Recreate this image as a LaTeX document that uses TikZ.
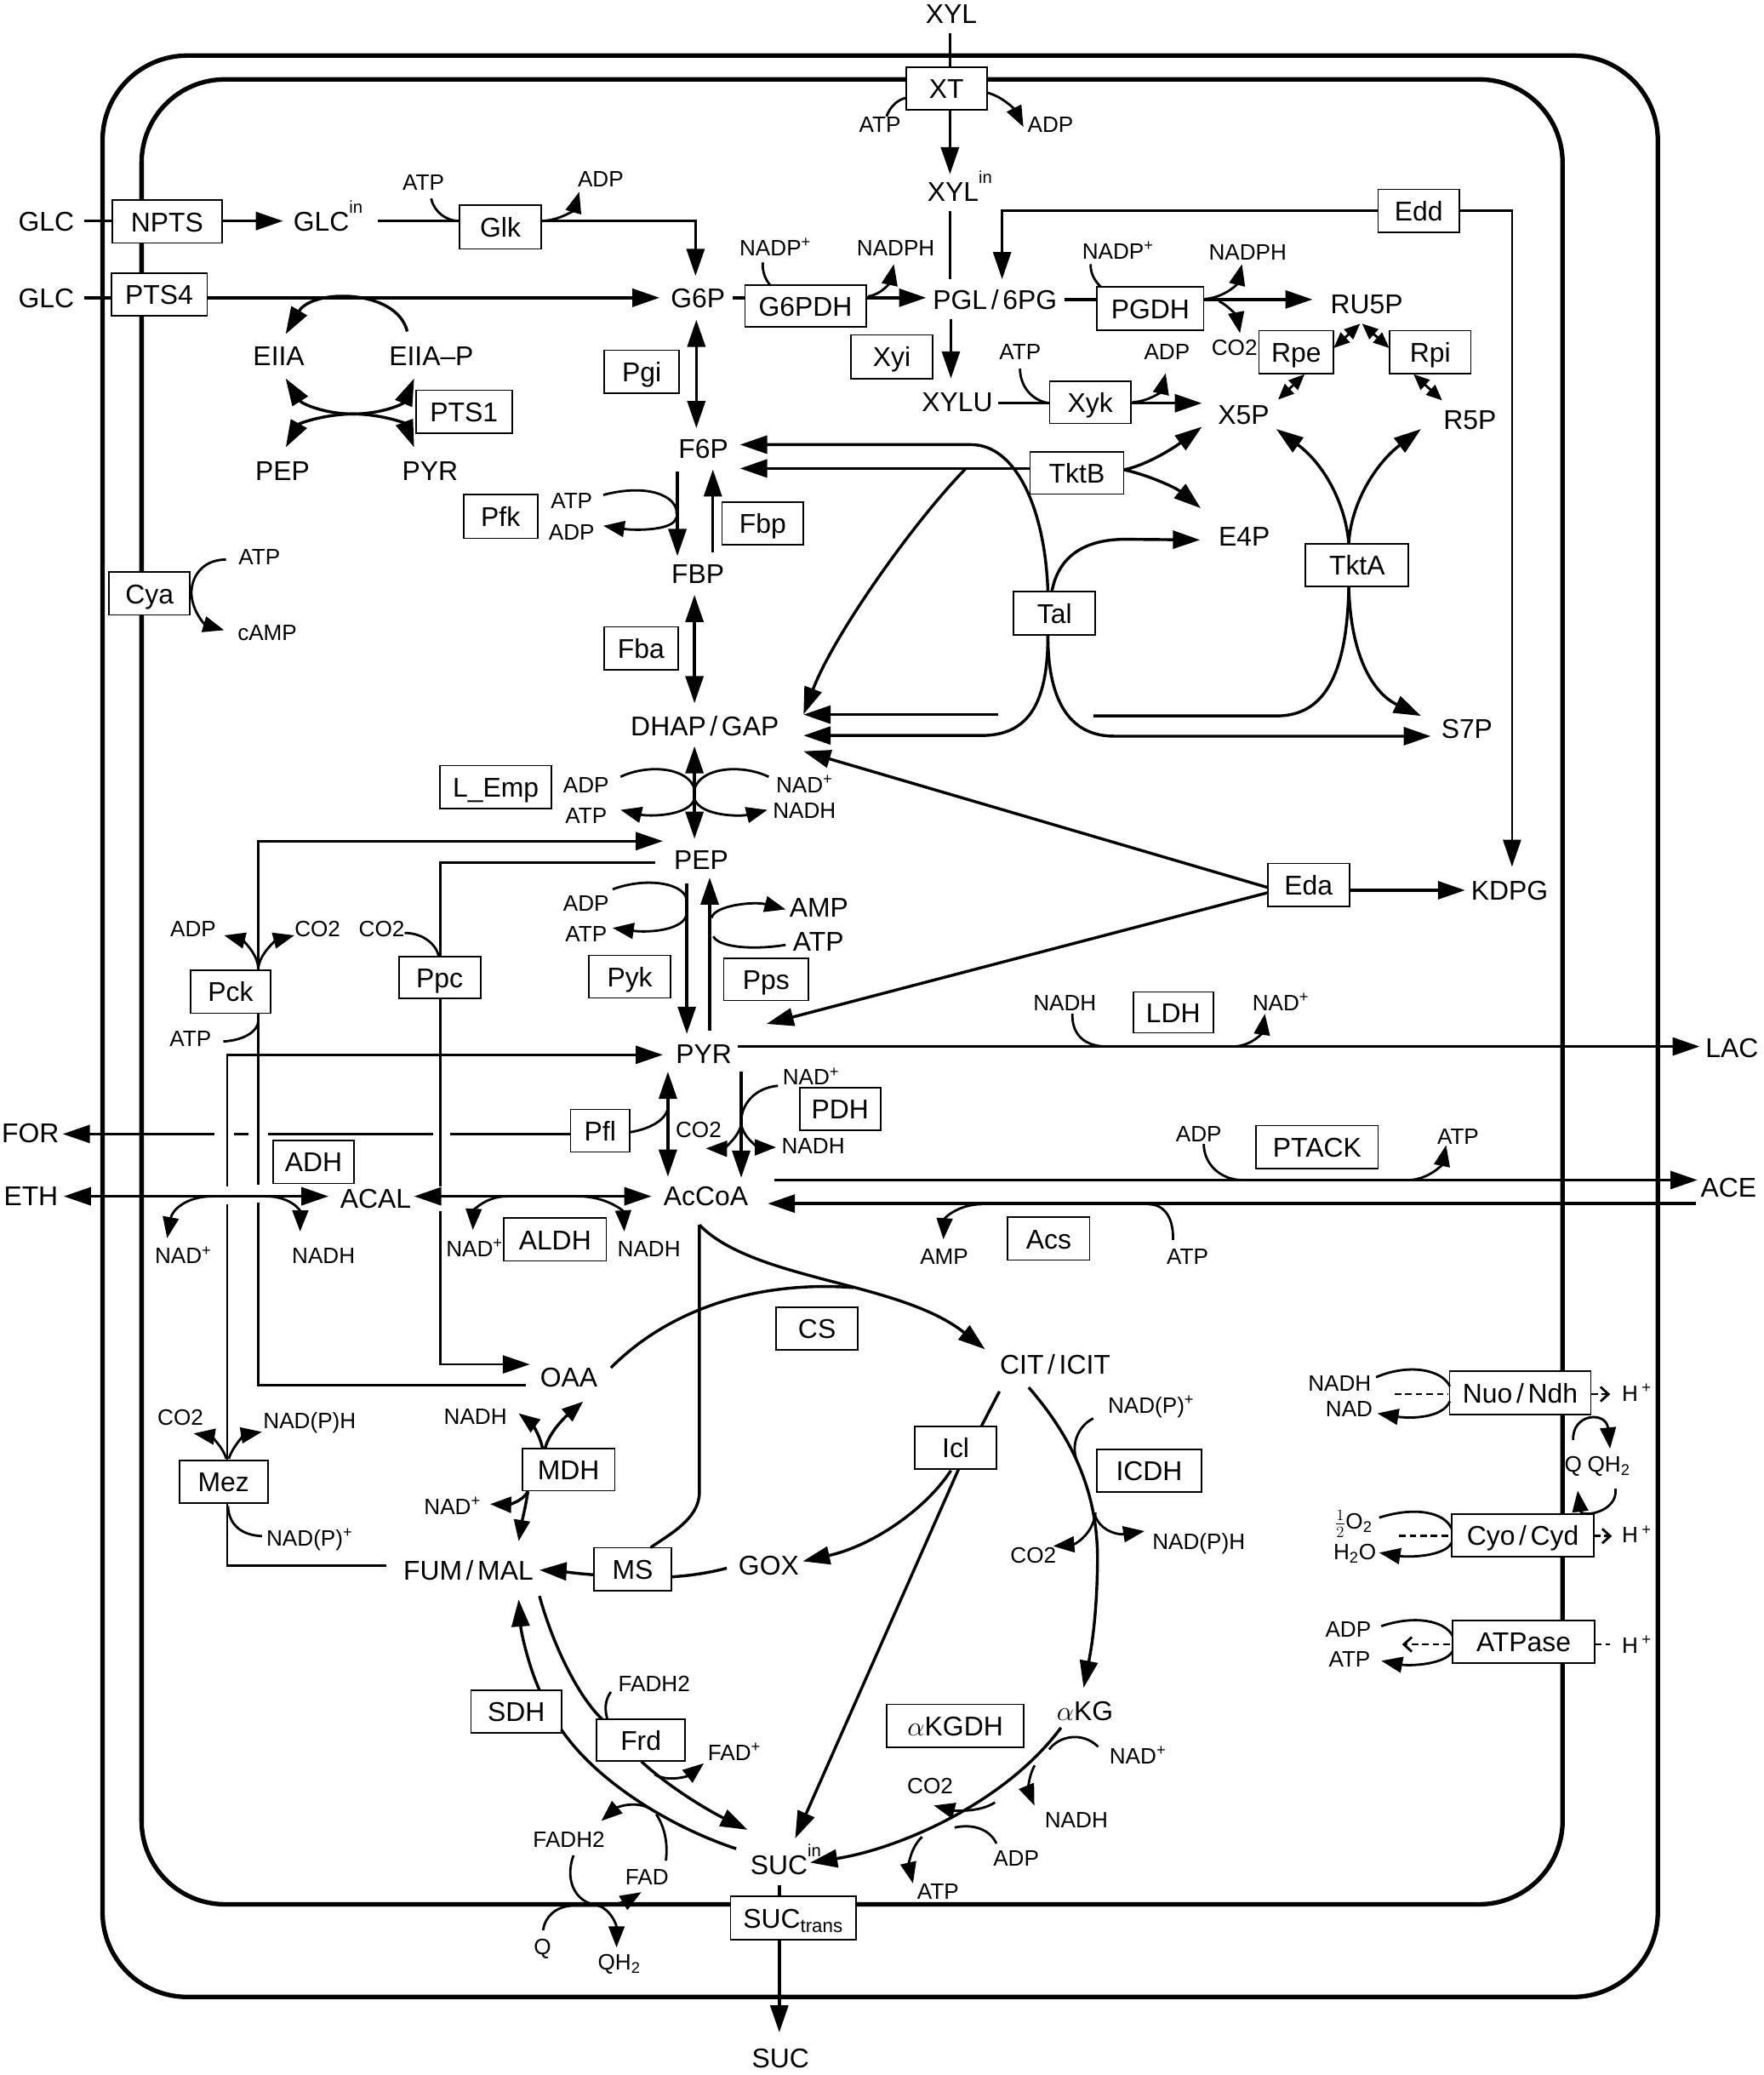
\documentclass[tikz,border=0pt]{standalone}
\usepackage{fontspec}
\setmainfont{Liberation Sans}
\usetikzlibrary{arrows.meta}
\newcommand{\mainf}{\fontsize{20.5}{24}\selectfont}
\newcommand{\coff}{\fontsize{16.8}{20}\selectfont}
\newcommand{\myin}{\raisebox{13.5pt}{\fontsize{13}{13}\selectfont in}}
\newcommand{\plusup}{\textsuperscript{+}}
\newcommand{\mysl}{\kern3pt/\kern3pt}
\begin{document}
\begin{tikzpicture}[x=1pt,y=-1pt,
  met/.style={font=\mainf, inner sep=0pt, anchor=base},
  cof/.style={font=\coff, inner sep=0pt, anchor=base},
  enz/.style={draw, fill=white, line width=1.1pt, font=\mainf, inner sep=0pt, minimum height=32.4pt, text height=15pt, text depth=0pt},
  ln/.style={line width=2.2pt},
  tl/.style={line width=1.8pt},
  big/.style={-{Triangle[length=20.5pt,width=13.5pt]}},
  bb/.style={{Triangle[length=20.5pt,width=13.5pt]}-{Triangle[length=20.5pt,width=13.5pt]}},
  sm/.style={-{Triangle[length=16pt,width=12pt]}},
  smb/.style={{Triangle[length=12pt,width=10pt]}-{Triangle[length=12pt,width=10pt]}},
  dsh/.style={line width=1.8pt, dash pattern=on 5pt off 3pt},
  opn/.style={-{Straight Barb[length=6pt,width=11pt]}},
  memb/.style={line width=3.4pt}
]
\fill[white] (0,0) rectangle (1333,1568);
\useasboundingbox (0,0) rectangle (1333,1568);

% membranes
\draw[memb, rounded corners=64pt] (77.5,42) rectangle (1253,1509);
\draw[memb, rounded corners=63pt] (107,60) rectangle (1181,1439);

% ---------- enzyme boxes ----------
\node[enz, minimum width=61pt, minimum height=32.3pt] (XT) at (715.4,67) {XT};
\node[enz, minimum width=83pt] (NPTS) at (126.3,167.5) {NPTS};
\node[enz, minimum width=72.5pt] (PTS4) at (120.3,222.5) {PTS4};
\node[enz, minimum width=61.6pt, minimum height=33pt] (Glk) at (378.2,171.7) {Glk};
\node[enz, minimum width=91.6pt, minimum height=31.5pt] (G6PDH) at (608.8,231.4) {G6PDH};
\node[enz, minimum width=80.6pt, minimum height=33pt] (PGDH) at (869.5,233.2) {PGDH};
\node[enz, minimum width=61.4pt] (Edd) at (1072.3,159.3) {Edd};
\node[enz, minimum width=56.6pt] (Pgi) at (485,280.8) {Pgi};
\node[enz, minimum width=61.6pt, minimum height=33pt] (Xyi) at (674,269.6) {Xyi};
\node[enz, minimum width=61.2pt, minimum height=32pt] (Xyk) at (824,304) {Xyk};
\node[enz, minimum width=56.3pt] (Rpe) at (979.7,266) {Rpe};
\node[enz, minimum width=61.4pt] (Rpi) at (1081,266) {Rpi};
\node[enz, minimum width=72.6pt] (PTS1) at (350.7,311) {PTS1};
\node[enz, minimum width=70.9pt, minimum height=32pt] (TktB) at (813.9,357.3) {TktB};
\node[enz, minimum width=56pt, minimum height=33pt] (Pfk) at (378.3,390.3) {Pfk};
\node[enz, minimum width=61.5pt, minimum height=32pt] (Fbp) at (576.5,395.4) {Fbp};
\node[enz, minimum width=61.2pt] (Cya) at (113,448.5) {Cya};
\node[enz, minimum width=61.8pt, minimum height=33pt] (Tal) at (797,463.5) {Tal};
\node[enz, minimum width=77.8pt] (TktA) at (1025.7,427) {TktA};
\node[enz, minimum width=56pt] (Fba) at (484.5,489.8) {Fba};
\node[enz, minimum width=84.4pt] (LEmp) at (374.7,594.8) {L\_Emp};
\node[enz, minimum width=61.7pt] (Eda) at (989,668.7) {Eda};
\node[enz, minimum width=60.3pt] (Pck) at (174.3,749.4) {Pck};
\node[enz, minimum width=61.7pt, minimum height=31.8pt] (Ppc) at (332.3,738.7) {Ppc};
\node[enz, minimum width=61.5pt, minimum height=32pt] (Pyk) at (476,738) {Pyk};
\node[enz, minimum width=64pt, minimum height=32pt] (Pps) at (579,740) {Pps};
\node[enz, minimum width=60.5pt, minimum height=31pt] (LDH) at (886.8,765) {LDH};
\node[enz, minimum width=61.1pt] (PDH) at (635,838) {PDH};
\node[enz, minimum width=44.8pt, minimum height=32.1pt] (Pfl) at (453.6,854.4) {Pfl};
\node[enz, minimum width=92.3pt] (PTACK) at (995.5,866.8) {PTACK};
\node[enz, minimum width=61pt] (ADH) at (237,878) {ADH};
\node[enz, minimum width=77.6pt] (ALDH) at (419.5,936.7) {ALDH};
\node[enz, minimum width=61.8pt] (Acs) at (792.6,936) {Acs};
\node[enz, minimum width=61.7pt] (CS) at (617.5,1004) {CS};
\node[enz, minimum width=106.7pt] (Nuo) at (1149,1052.5) {Nuo\mysl Ndh};
\node[enz, minimum width=61.7pt] (Icl) at (722.3,1094) {Icl};
\node[enz, minimum width=69.8pt, minimum height=31.8pt] (MDH) at (429.7,1110.6) {MDH};
\node[enz, minimum width=78.8pt, minimum height=32pt] (ICDH) at (868.6,1111.2) {ICDH};
\node[enz, minimum width=66.9pt] (Mez) at (169,1119.8) {Mez};
\node[enz, minimum width=107.5pt, minimum height=32.1pt] (Cyo) at (1151,1160.4) {Cyo\mysl Cyd};
\node[enz, minimum width=58.8pt] (MS) at (478.2,1185.8) {MS};
\node[enz, minimum width=107.3pt] (ATPase) at (1151.6,1240.7) {ATPase};
\node[enz, minimum width=68.3pt] (SDH) at (390.2,1293.3) {SDH};
\node[enz, minimum width=103.4pt] (aKGDH) at (722,1304) {$\alpha$KGDH};
\node[enz, minimum width=66.7pt, minimum height=31.9pt] (Frd) at (484.4,1314.9) {Frd};
\node[enz, minimum width=94.8pt, minimum height=33pt] (SUCt) at (599.5,1449.4) {SUC\textsubscript{trans}};

% ---------- metabolites ----------
\node[met] (XYL) at (719,17.8) {XYL};
\node[met] (GLCa) at (35,174.8) {GLC};
\node[met] (GLCb) at (35,232.3) {GLC};
\node[met, anchor=base west] (GLCin) at (221.6,174.8) {GLC\myin};
\node[met, anchor=base west] (XYLin) at (700.8,152.3) {XYL\myin};
\node[met] (G6P) at (527.5,232.3) {G6P};
\node[met] (PGL) at (752,233.8) {PGL\mysl 6PG};
\node[met] (RU5P) at (1033,236.8) {RU5P};
\node[met] (EIIA) at (210.7,276.3) {EIIA};
\node[met] (EIIAP) at (326,276.3) {EIIA--P};
\node[met] (XYLU) at (723.5,310.8) {XYLU};
\node[met] (X5P) at (940,320.3) {X5P};
\node[met] (R5P) at (1111,324.3) {R5P};
\node[met] (F6P) at (531.6,346.3) {F6P};
\node[met] (PEPs) at (213.5,363.3) {PEP};
\node[met] (PYRs) at (325,363.3) {PYR};
\node[met] (E4P) at (940.5,412.3) {E4P};
\node[met] (FBP) at (527.5,440.6) {FBP};
\node[met] (DHAP) at (532.7,555.9) {DHAP\mysl GAP};
\node[met] (S7P) at (1108.7,557.8) {S7P};
\node[met] (PEP) at (530,657.1) {PEP};
\node[met] (KDPG) at (1141,680) {KDPG};
\node[met] (AMPpps) at (619,693.3) {AMP};
\node[met] (ATPpps) at (618.5,718.8) {ATP};
\node[met] (PYR) at (532,803.3) {PYR};
\node[met] (LAC) at (1309,798.8) {LAC};
\node[met] (FOR) at (23,863.3) {FOR};
\node[met] (ETH) at (23.4,911.3) {ETH};
\node[met] (ACAL) at (284,913.1) {ACAL};
\node[met] (AcCoA) at (533.5,911.3) {AcCoA};
\node[met] (ACE) at (1306.5,904.3) {ACE};
\node[met] (CIT) at (797.5,1038.3) {CIT\mysl ICIT};
\node[met] (OAA) at (430,1048.3) {OAA};
\node[met] (FUM) at (354,1194.3) {FUM\mysl MAL};
\node[met] (GOX) at (581,1190.3) {GOX};
\node[met] (aKG) at (820,1300.3) {$\alpha$KG};
\node[met, anchor=base west] (SUCin) at (567,1416.3) {SUC\myin};
\node[met] (SUC) at (590,1562.5) {SUC};

% ---------- cofactors ----------
\node[cof] (c1) at (665,100) {ATP};
\node[cof] (c2) at (794,100) {ADP};
\node[cof] (c3) at (320,143.7) {ATP};
\node[cof] (c4) at (454,141) {ADP};
\node[cof] (c5) at (586,193) {NADP\plusup};
\node[cof] (c6) at (677,193) {NADPH};
\node[cof] (c7) at (845,195.8) {NADP\plusup};
\node[cof] (c8) at (943,196.3) {NADPH};
\node[cof] (c9) at (933,268.3) {CO2};
\node[cof] (c10) at (771,272) {ATP};
\node[cof] (c11) at (882,272) {ADP};
\node[cof] (c12) at (432,384) {ATP};
\node[cof] (c13) at (432,408) {ADP};
\node[cof] (c14) at (196,426.6) {ATP};
\node[cof] (c15) at (202,483.8) {cAMP};
\node[cof] (c16) at (443,599) {ADP};
\node[cof] (c17) at (443,622.4) {ATP};
\node[cof] (c18) at (608,599) {NAD\plusup};
\node[cof] (c19) at (608,618.6) {NADH};
\node[cof] (c20) at (443,688.5) {ADP};
\node[cof] (c21) at (443,711.4) {ATP};
\node[cof] (c22) at (146,707.6) {ADP};
\node[cof] (c23) at (240,707.6) {CO2};
\node[cof] (c24) at (288.5,707.6) {CO2};
\node[cof] (c25) at (804.8,763.5) {NADH};
\node[cof] (c26) at (968,763.5) {NAD\plusup};
\node[cof] (c27) at (144,790.8) {ATP};
\node[cof] (c28) at (613,820) {NAD\plusup};
\node[cof] (c29) at (528,859.4) {CO2};
\node[cof] (c30) at (614.6,872.1) {NADH};
\node[cof] (c31) at (906,862.7) {ADP};
\node[cof] (c32) at (1102,864.5) {ATP};
\node[cof] (c33) at (138.5,955) {NAD\plusup};
\node[cof] (c34) at (244.5,955) {NADH};
\node[cof] (c35) at (358.6,949.7) {NAD\plusup};
\node[cof] (c36) at (490.5,949.7) {NADH};
\node[cof] (c37) at (713.6,955.3) {AMP};
\node[cof] (c38) at (897.5,955.3) {ATP};
\node[cof] (c39) at (1012.5,1051.4) {NADH};
\node[cof] (c40) at (1019.7,1070.5) {NAD};
\node[cof] (h1) at (1237,1059) {H\,\plusup};
\node[cof] (h2) at (1237,1166) {H\,\plusup};
\node[cof] (h3) at (1237,1249) {H\,\plusup};
\node[cof] (c41) at (870,1068) {NAD(P)\plusup};
\node[cof] (c42) at (359.3,1076.4) {NADH};
\node[cof] (c43) at (342,1144.3) {NAD\plusup};
\node[cof] (c44) at (136.4,1077) {CO2};
\node[cof] (c45) at (234,1079.4) {NAD(P)H};
\node[cof] (c46) at (234,1168) {NAD(P)\plusup};
\node[cof] (c47) at (1189,1112.5) {Q};
\node[cof] (c48) at (1216,1112.5) {QH\textsubscript{2}};
\node[cof] (c49) at (1023,1155.7) {$\frac{1}{2}$O\textsubscript{2}};
\node[cof] (c50) at (1024,1178.5) {H\textsubscript{2}O};
\node[cof] (c51) at (906,1171) {NAD(P)H};
\node[cof] (c52) at (781,1181) {CO2};
\node[cof] (c53) at (1019,1237.4) {ADP};
\node[cof] (c54) at (1020,1259.7) {ATP};
\node[cof] (c55) at (494.4,1278) {FADH2};
\node[cof] (c56) at (555,1330.3) {FAD\plusup};
\node[cof] (c57) at (860,1333) {NAD\plusup};
\node[cof] (c58) at (703,1355.2) {CO2};
\node[cof] (c59) at (813.5,1381.4) {NADH};
\node[cof] (c60) at (768,1410) {ADP};
\node[cof] (c61) at (709,1435) {ATP};
\node[cof] (c62) at (430,1395.8) {FADH2};
\node[cof] (c63) at (489,1424.5) {FAD};
\node[cof] (c64) at (410,1476.9) {Q};
\node[cof] (c65) at (468,1488.7) {QH\textsubscript{2}};

% ---------- connectors ----------
% xylose uptake
\draw[ln] (718,25) -- (718,50.9);
\draw[ln,big] (718,83.2) -- (718,131.7);
\draw[tl] (670,88) .. controls (673,80) and (679,75) .. (684.9,74);
\draw[tl,sm] (746,70) .. controls (758,73) and (767,83) .. (773.5,96);
\draw[ln] (718,159.7) -- (718,211);
\draw[ln,big] (718.7,241) -- (718.7,286);

% glucose
\draw[ln] (63.7,167) -- (84.8,167);
\draw[ln,big] (167.8,167) -- (213.9,167);
\draw[ln] (285.7,167) -- (347.4,167);
\draw[tl] (325.9,150) .. controls (328,160) and (337,167) .. (347.4,167);
\draw[ln,big] (409,167) -- (525.7,167) -- (525.7,208.5);
\draw[tl,sm] (410,167) .. controls (425,166) and (434,158) .. (437.8,145);
\draw[ln] (63.7,225) -- (84.1,225);
\draw[ln,big] (156.5,225) -- (498.5,225);

% PTS cycle
\draw[ln,big] (307.8,250.5) .. controls (300,218) and (236,218) .. (215.9,252.5);
\draw[ln,big] (267,312.8) .. controls (245,312.8) and (228,305) .. (215.9,286);
\draw[ln,big] (267,312.8) .. controls (289,312.8) and (305,305) .. (313,286);
\draw[ln,big] (267,312.8) .. controls (245,313) and (226,320) .. (216,338);
\draw[ln,big] (267,312.8) .. controls (289,313) and (306,320) .. (313,338);

% oxidative PPP
\draw[ln] (553.6,225) -- (563,225);
\draw[ln,big] (654.6,225) -- (700,225);
\draw[tl] (576.5,198.4) .. controls (576,206) and (579,212) .. (582.3,215.7);
\draw[tl,sm] (656,224) .. controls (668,222) and (673,212) .. (675.6,199.6);
\draw[ln] (804.8,226.3) -- (829.2,226.3);
\draw[ln,big] (909.8,226.3) -- (992,226.3);
\draw[tl] (824.3,199.6) .. controls (824,207) and (828,213) .. (832,216.7);
\draw[tl,sm] (910,226) .. controls (925,225) and (935,215) .. (938.7,199.6);
\draw[tl,sm] (921.4,227.6) .. controls (930,232) and (935,240) .. (937.2,251.8);
\draw[tl,big] (1041.6,159) -- (757.4,159) -- (757.4,211);
\draw[tl,big] (1103,159) -- (1142.8,159) -- (1142.8,655);
\draw[tl,smb] (1008,263) -- (1028,244.6);
\draw[tl,smb] (1050,263) -- (1029.5,244.6);
\draw[tl,smb] (986,282.8) -- (966,302);
\draw[tl,smb] (1068.4,282.8) -- (1090,302.6);

% xylulose
\draw[ln] (754.5,304.7) -- (793.3,304.7);
\draw[tl] (770.9,278.5) .. controls (771,292) and (780,303) .. (793.3,304.7);
\draw[tl,sm] (856,304) .. controls (870,303) and (878,295) .. (881,282);
\draw[ln,big] (854.5,304.7) -- (908.4,304.7);

% upper glycolysis
\draw[ln,bb] (526.3,241.6) -- (526.3,323.5);
\draw[ln,big] (512,356) -- (512,420.2);
\draw[tl] (456,374) .. controls (490,365) and (512,375) .. (511.4,388);
\draw[tl,sm] (511,391) .. controls (510,401) and (480,401) .. (456,397.3);
\draw[ln,big] (538.8,417.7) -- (538.8,354.7);
\draw[ln,bb] (524.9,449.5) -- (524.9,531.4);

% non-oxidative PPP
\draw[ln,big] (778.4,354) -- (559.3,354);
\draw[ln,big] (792,447) .. controls (790,385) and (768,336) .. (734,336) -- (559.3,336);
\draw[ln,big] (730,354) .. controls (690,395) and (630,480) .. (607.3,539.8);
\draw[ln,big] (849.3,355) .. controls (865,352) and (885,340) .. (908.4,322.5);
\draw[ln,big] (849.3,355) .. controls (865,358) and (888,368) .. (907.5,384);
\draw[ln,big] (795,447) .. controls (800,420) and (820,407.5) .. (850.7,407.5) -- (907,408);
\draw[ln,big] (792,480) .. controls (792,535) and (775,555.8) .. (741.6,555.8) -- (607.3,555.8);
\draw[ln,big] (792,480) .. controls (792,535) and (812,556.3) .. (842,556.3) -- (1081.4,556.3);
\draw[ln,big] (1019.4,410.8) .. controls (1017,380) and (1000,350) .. (964.6,324.2);
\draw[ln,big] (1019.4,410.8) .. controls (1021,380) and (1040,350) .. (1074,324.2);
\draw[ln] (1019.4,443.4) .. controls (1018,520) and (995,541) .. (964.6,541) -- (826.3,541);
\draw[ln,big] (754.5,540) -- (607.3,540);
\draw[ln,big] (1019.4,443.4) .. controls (1021,500) and (1040,525) .. (1074,541);

% Cya
\draw[tl,sm] (170.8,422.8) .. controls (150,423) and (143,440) .. (145,452) .. controls (147,464) and (155,472) .. (169.4,476.2);

% lower glycolysis
\draw[ln,bb] (524.9,563.9) -- (524.9,633.8);
\draw[tl] (469,587) .. controls (490,577) and (520,580) .. (524.9,596);
\draw[tl,sm] (524.9,604) .. controls (520,617) and (490,617) .. (469,612);
\draw[tl] (581,587) .. controls (560,577) and (530,580) .. (524.9,596);
\draw[tl,sm] (524.9,604) .. controls (530,617) and (560,617) .. (580,612);
\draw[ln,big] (519.1,667.7) -- (519.1,781.3);
\draw[ln,big] (536.4,778.8) -- (536.4,663.1);
\draw[tl] (463,672) .. controls (490,662) and (519,668) .. (519.1,681);
\draw[tl,sm] (519.1,690) .. controls (518,703) and (490,705) .. (463,701.2);
\draw[tl,sm] (537.8,693.6) .. controls (540,684) and (570,681) .. (593.8,687.2);
\draw[tl] (539.2,707.6) .. controls (543,716) and (570,718) .. (593.8,714);

% ED pathway
\draw[ln,big] (958.3,670.7) -- (607.3,567.7);
\draw[ln,big] (958.3,674.5) -- (579.4,773.7);
\draw[ln,big] (1020,672.7) -- (1107.3,672.7);

% anaplerotic
\draw[tl,big] (195.2,733) -- (195.2,635.6) -- (501,635.6);
\draw[tl,sm] (195.2,732) .. controls (195,720) and (182,710) .. (169.4,706.8);
\draw[tl,sm] (195.2,732) .. controls (196,720) and (210,710) .. (222.5,706.8);
\draw[tl] (168.8,787) .. controls (185,786) and (195,779) .. (195.2,771.7);
\draw[tl] (195.2,765.7) -- (195.2,895);
\draw[tl] (195.2,909) -- (195.2,1046.9) -- (397.6,1046.9);
\draw[tl] (495.3,651.6) -- (333,651.6) -- (333,722.8);
\draw[tl] (305.8,705) .. controls (320,705) and (330,714) .. (331.6,722.8);
\draw[tl] (333,754.6) -- (333,896.3);
\draw[tl,big] (333,915.4) -- (333,1031) -- (400.5,1031);
\draw[tl] (171.7,1103.6) -- (171.7,910.3);
\draw[tl,big] (171.7,896.3) -- (171.7,797.1) -- (501,797.1);
\draw[tl] (292.3,1183.2) -- (171.7,1183.2) -- (171.7,1136);
\draw[tl,sm] (171,1102.3) .. controls (168,1092) and (158,1085) .. (146.4,1083.2);
\draw[tl,sm] (173,1102.3) .. controls (176,1092) and (186,1084) .. (198,1082);
\draw[tl] (172.3,1138) .. controls (173,1152) and (182,1160) .. (198,1160.8);

% LDH
\draw[ln,big] (557.9,790.8) -- (1284.6,790.8);
\draw[tl] (810.5,766) .. controls (810,782) and (820,790.8) .. (836.4,790.8);
\draw[tl,sm] (932.9,790.8) .. controls (947,790) and (954,780) .. (956,766);

% PDH / Pfl
\draw[ln,bb] (504.8,809.8) -- (504.8,889.2);
\draw[tl] (476,855.6) .. controls (492,853) and (503,846) .. (504.8,837.8);
\draw[ln,big] (560.2,809.8) -- (560.2,890);
\draw[tl] (588,820.5) .. controls (570,822) and (560,835) .. (560.2,848);
\draw[tl,sm] (560.2,850) .. controls (563,862) and (575,867) .. (586.6,867);
\draw[tl,sm] (560.2,850) .. controls (557,862) and (545,868) .. (533.5,867.8);
\draw[tl] (431.2,856.9) -- (340.2,856.9);
\draw[tl] (327.3,856.9) -- (202.4,856.9);
\draw[tl] (188,856.9) -- (176.6,856.9);
\draw[tl,big] (162.2,856.9) -- (47.4,856.9);

% ethanol
\draw[ln,bb] (48.2,904) -- (248.3,904);
\draw[tl,sm] (160.8,904) .. controls (140,904) and (130,915) .. (126.3,935.7);
\draw[tl,sm] (201,904) .. controls (220,904) and (227,915) .. (226.8,930.6);
\draw[ln,bb] (313,904) -- (492.4,904);
\draw[tl,sm] (383.3,904) .. controls (367,904) and (358,915) .. (357.4,929.4);
\draw[tl,sm] (437.3,904) .. controls (458,904) and (471,915) .. (471.8,930.6);

% acetate
\draw[ln,big] (585.2,891.7) -- (1283,891.7);
\draw[tl] (909.8,864.5) .. controls (910,881) and (924,891.7) .. (938.7,891.7);
\draw[tl,sm] (1065.5,891.7) .. controls (1080,891) and (1090,880) .. (1093,865.3);
\draw[ln,big] (1281.7,909.5) -- (580.3,909.5);
\draw[tl,sm] (741.6,910) .. controls (725,910) and (714,920) .. (713,936.5);
\draw[tl] (868,910) .. controls (880,910) and (887,920) .. (886.6,937);

% TCA
\draw[ln,big] (528.6,925.6) .. controls (570,968) and (680,968) .. (744.5,1019.6);
\draw[ln] (461.7,1033.6) .. controls (510,985) and (580,968) .. (645,973);
\draw[ln] (528.6,925.6) -- (528.6,1127.7) .. controls (528.6,1148) and (505,1160) .. (491.8,1169.4);
\draw[ln] (549.3,1185) .. controls (530,1190) and (515,1191) .. (507.6,1191.6);
\draw[ln,big] (448.8,1190) .. controls (435,1189) and (420,1187) .. (407.7,1186.4);
\draw[ln] (755.4,1051.4) -- (741.6,1078);
\draw[ln,big] (718.7,1111.2) .. controls (700,1140) and (660,1168) .. (606.7,1179.8);
\draw[ln,big] (724.4,1110.4) -- (601,1389.2);
\draw[ln,big] (777.5,1048.4) .. controls (812,1088) and (830,1130) .. (829.5,1180) .. controls (829,1225) and (824,1250) .. (819,1275.4);
\draw[tl] (826.3,1071.8) .. controls (814,1078) and (810,1092) .. (813.4,1102.3);
\draw[tl,sm] (827.8,1145.5) .. controls (832,1157) and (845,1160) .. (865,1157);
\draw[tl,sm] (828,1143) .. controls (826,1160) and (812,1167) .. (796,1168.4);
\draw[ln,big] (801.9,1305.5) .. controls (760,1362) and (680,1397) .. (612.4,1407.5);
\draw[tl] (830,1320) .. controls (818,1308) and (800,1312) .. (793,1322);
\draw[tl,sm] (782,1334) .. controls (776,1345) and (778,1355) .. (781.8,1364.3);
\draw[tl,sm] (752,1362) .. controls (740,1370) and (720,1368) .. (705.7,1364.3);
\draw[tl] (753.1,1393.1) .. controls (748,1382) and (735,1378) .. (721.5,1381);
\draw[tl,sm] (697,1388) .. controls (688,1396) and (687,1410) .. (690,1423.2);

% MDH
\draw[ln,sm] (412,1094.5) .. controls (415,1082) and (428,1070) .. (440.7,1059.1);
\draw[ln,sm] (410,1094.5) .. controls (408,1083) and (400,1074) .. (392,1068);
\draw[ln,sm] (399,1127) .. controls (395,1135) and (383,1137) .. (370.4,1136.6);
\draw[ln,sm] (399,1127) .. controls (397,1140) and (394,1152) .. (392,1164.6);

% Frd / SDH
\draw[ln] (407.7,1206) .. controls (420,1250) and (440,1285) .. (455,1299);
\draw[ln,big] (484.7,1331) .. controls (505,1350) and (535,1368) .. (565,1382.7);
\draw[tl] (461.7,1278.5) .. controls (457,1285) and (457,1292) .. (459,1299);
\draw[tl,sm] (494.7,1340.8) .. controls (505,1347) and (520,1342) .. (532,1332.4);
\draw[ln] (556.4,1397) .. controls (505,1380) and (450,1345) .. (424.3,1307);
\draw[ln,big] (407.7,1277) .. controls (400,1260) and (394,1235) .. (392,1208.6);
\draw[tl,sm] (491.8,1367) .. controls (480,1360) and (466,1366) .. (454.5,1376);
\draw[tl] (503.3,1406) .. controls (505,1392) and (502,1380) .. (496,1371);
\draw[tl,sm] (433.5,1402) .. controls (426,1422) and (436,1440) .. (455,1440) .. controls (466,1440) and (476,1435) .. (484.7,1429.8);
\draw[tl,sm] (410.5,1458.6) .. controls (412,1448) and (420,1441) .. (432,1440) -- (452,1440) .. controls (462,1443) and (466,1455) .. (466,1471.6);

% succinate export
\draw[ln] (589,1424.5) -- (589,1432.9);
\draw[ln,big] (589,1466) -- (589,1535.8);

% respiratory chain
\draw[tl] (1040,1040.7) .. controls (1065,1030) and (1090,1035) .. (1095.8,1047.6);
\draw[tl,sm] (1095.8,1059) .. controls (1090,1072) and (1065,1072) .. (1041,1068);
\draw[dsh] (1054,1053.5) -- (1094.3,1053.5);
\draw[dsh,opn] (1202.5,1053.5) -- (1217,1053.5);
\draw[tl,sm] (1189,1088.3) .. controls (1188,1068) and (1214,1066) .. (1216.9,1094.7);
\draw[tl,sm] (1221,1125) .. controls (1223,1143) and (1195,1147) .. (1192.4,1126.4);
\draw[tl] (1042.4,1146.8) .. controls (1070,1138) and (1092,1143) .. (1097,1155);
\draw[tl,sm] (1097,1166) .. controls (1092,1176) and (1065,1177) .. (1042.4,1173.3);
\draw[dsh] (1057.4,1160.7) -- (1097,1160.7);
\draw[dsh,opn] (1204.5,1160.7) -- (1218.3,1160.7);
\draw[tl] (1044,1228.8) .. controls (1070,1220) and (1092,1225) .. (1097.8,1236);
\draw[tl,sm] (1097.8,1247.9) .. controls (1092,1258) and (1065,1259) .. (1044,1255);
\draw[dsh,opn] (1095.8,1242.6) -- (1059.7,1242.6);
\draw[dsh] (1205.3,1242.6) -- (1217,1242.6);

\end{tikzpicture}
\end{document}
